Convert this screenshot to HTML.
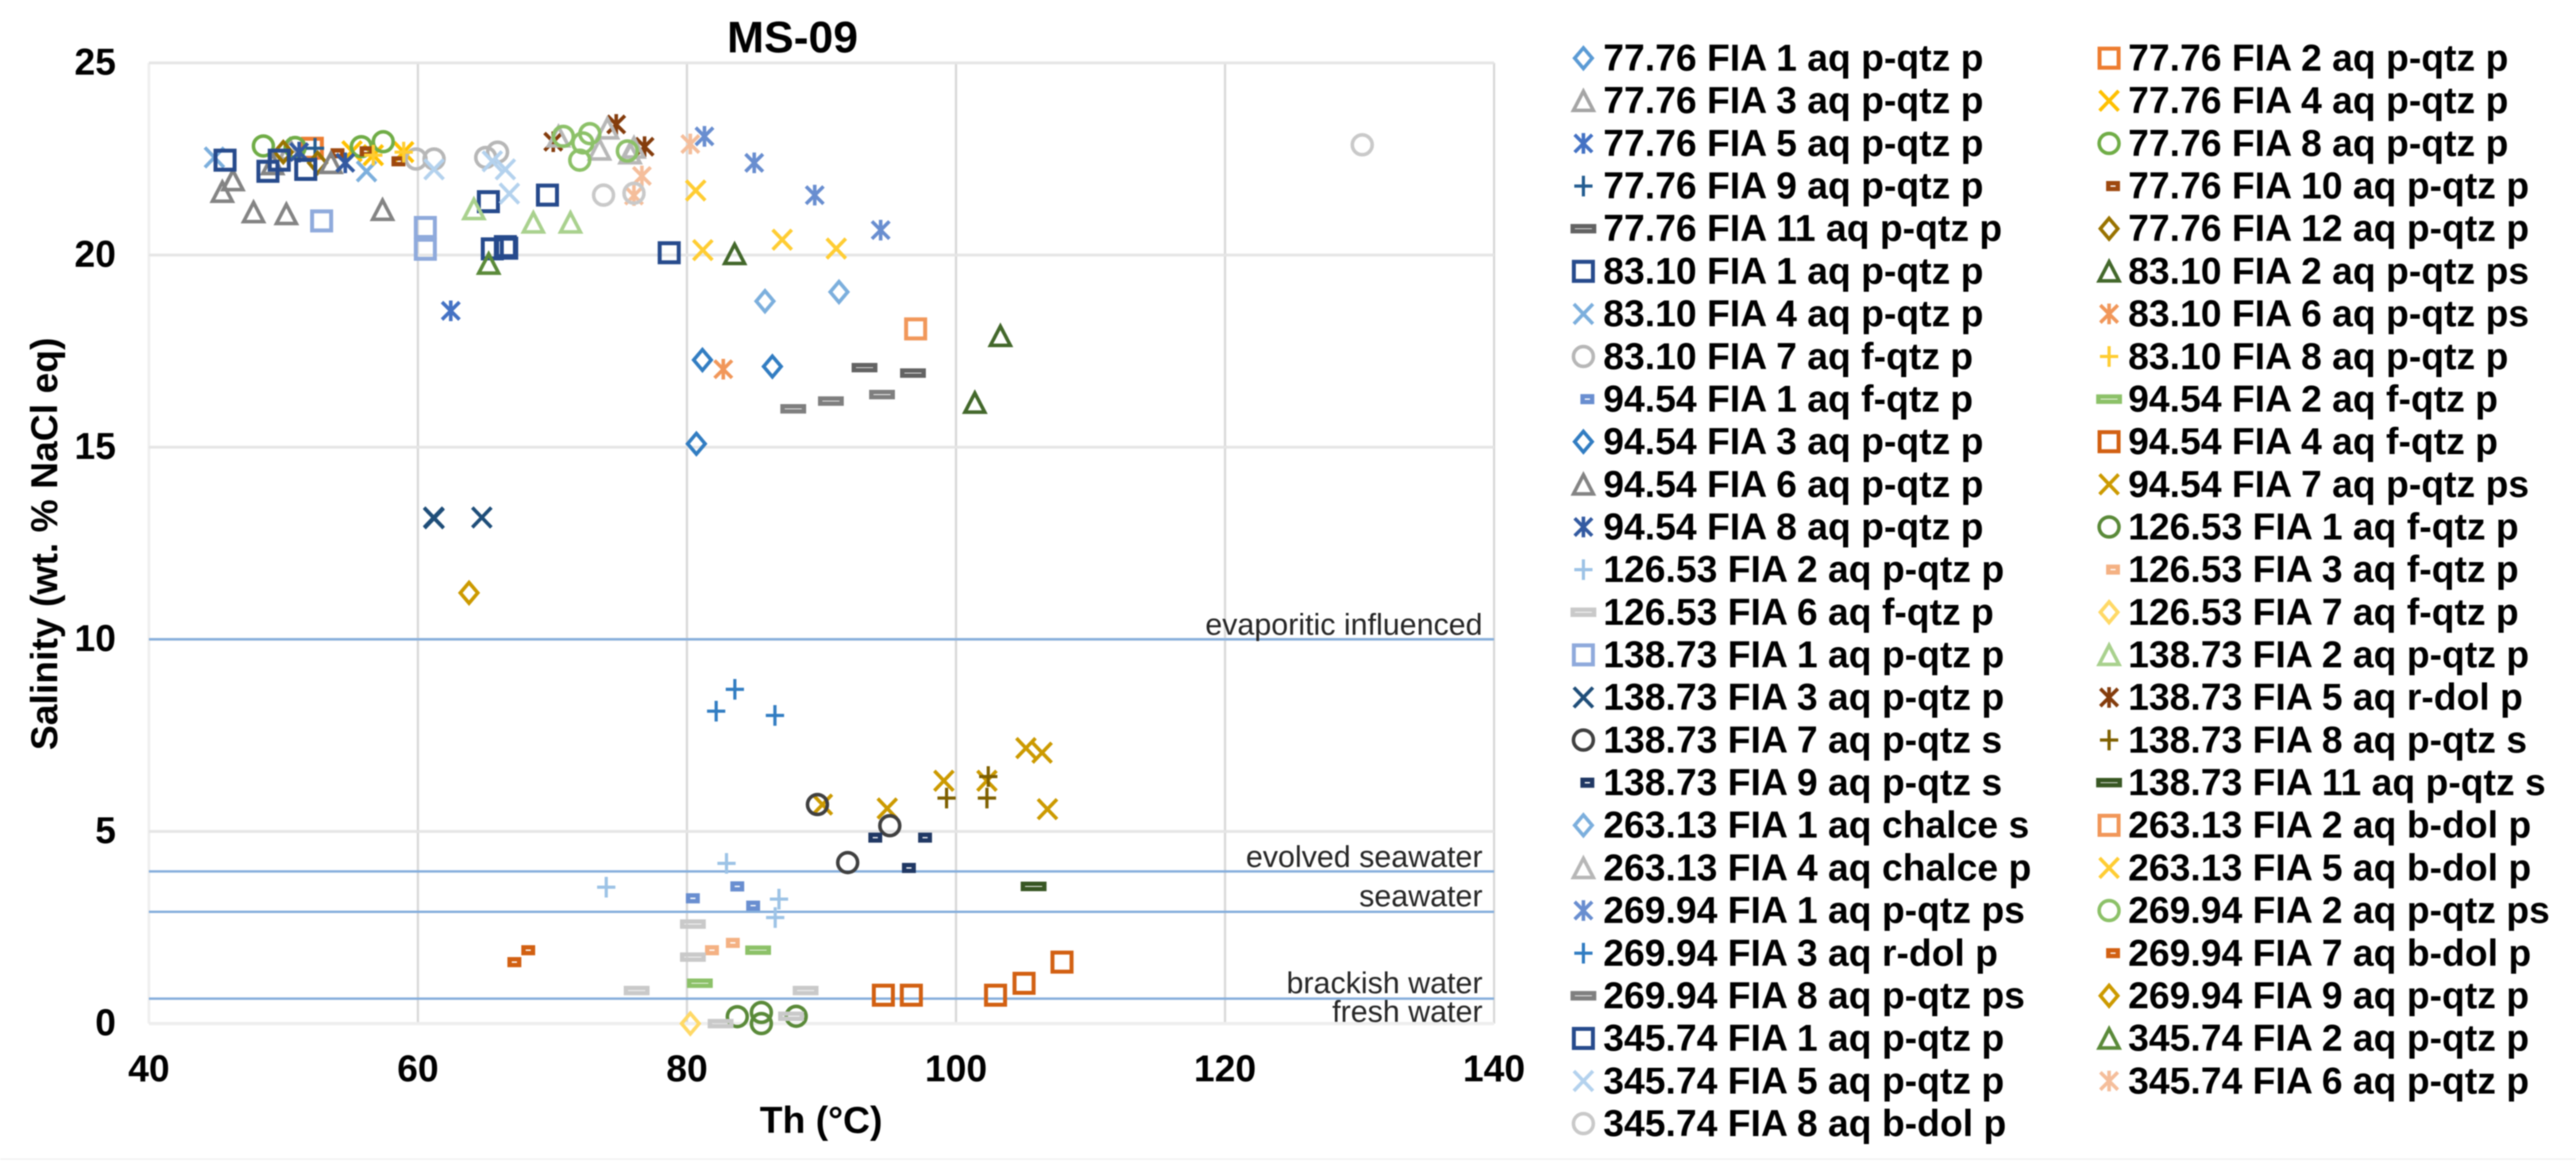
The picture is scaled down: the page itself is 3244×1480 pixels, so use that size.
<!DOCTYPE html>
<html lang="en">
<head>
<meta charset="utf-8">
<title>MS-09 Salinity vs Th</title>
<style>
  html,body{margin:0;padding:0;background:#fff;}
  body{width:3244px;height:1480px;overflow:hidden;}
  #chart{display:block;filter:blur(0.8px);font-family:"Liberation Sans",Arial,sans-serif;}
  .bold{font-weight:bold;fill:#000;font-size:47px;}
  .ref{font-weight:normal;fill:#262626;font-size:38.3px;}
</style>
</head>
<body>
<svg id="chart" xmlns="http://www.w3.org/2000/svg" width="3244" height="1480" viewBox="0 0 3244 1480">
  <rect x="0" y="0" width="3244" height="1480" fill="#ffffff"/>
  <line x1="0" y1="1460" x2="3244" y2="1460" stroke="#f3f3f3" stroke-width="2"/>
  <g id="grid"></g>
  <g id="refs"></g>
  <g id="xticks"></g>
  <g id="yticks"></g>
  <g id="marks"></g>
  <text x="998" y="66" text-anchor="middle" style="font-weight:bold;font-size:56px;fill:#000">MS-09</text>
  <text x="1034" y="1427" text-anchor="middle" class="bold">Th (°C)</text>
  <text transform="translate(72,685) rotate(-90)" text-anchor="middle" class="bold">Salinity (wt. % NaCl eq)</text>
  <g id="legend"></g>
</svg>
<script>
const xTicks = [40, 60, 80, 100, 120, 140];
const yTicks = [0, 5, 10, 15, 20, 25];
const refValues = [10, 3.96, 2.91, 0.65];
const refLabels = ["evaporitic influenced", "evolved seawater", "seawater", "brackish water", "fresh water"];

const seriesNames = [
  "77.76 FIA 1 aq p-qtz p", "77.76 FIA 2 aq p-qtz p", "77.76 FIA 3 aq p-qtz p", "77.76 FIA 4 aq p-qtz p",
  "77.76 FIA 5 aq p-qtz p", "77.76 FIA 8 aq p-qtz p", "77.76 FIA 9 aq p-qtz p", "77.76 FIA 10 aq p-qtz p",
  "77.76 FIA 11 aq p-qtz p", "77.76 FIA 12 aq p-qtz p", "83.10 FIA 1 aq p-qtz p", "83.10 FIA 2 aq p-qtz ps",
  "83.10 FIA 4 aq p-qtz p", "83.10 FIA 6 aq p-qtz ps", "83.10 FIA 7 aq f-qtz p", "83.10 FIA 8 aq p-qtz p",
  "94.54 FIA 1 aq f-qtz p", "94.54 FIA 2 aq f-qtz p", "94.54 FIA 3 aq p-qtz p", "94.54 FIA 4 aq f-qtz p",
  "94.54 FIA 6 aq p-qtz p", "94.54 FIA 7 aq p-qtz ps", "94.54 FIA 8 aq p-qtz p", "126.53 FIA 1 aq f-qtz p",
  "126.53 FIA 2 aq p-qtz p", "126.53 FIA 3 aq f-qtz p", "126.53 FIA 6 aq f-qtz p", "126.53 FIA 7 aq f-qtz p",
  "138.73 FIA 1 aq p-qtz p", "138.73 FIA 2 aq p-qtz p", "138.73 FIA 3 aq p-qtz p", "138.73 FIA 5 aq r-dol p",
  "138.73 FIA 7 aq p-qtz s", "138.73 FIA 8 aq p-qtz s", "138.73 FIA 9 aq p-qtz s", "138.73 FIA 11 aq p-qtz s",
  "263.13 FIA 1 aq chalce s", "263.13 FIA 2 aq b-dol p", "263.13 FIA 4 aq chalce p", "263.13 FIA 5 aq b-dol p",
  "269.94 FIA 1 aq p-qtz ps", "269.94 FIA 2 aq p-qtz ps", "269.94 FIA 3 aq r-dol p", "269.94 FIA 7 aq b-dol p",
  "269.94 FIA 8 aq p-qtz ps", "269.94 FIA 9 aq p-qtz p", "345.74 FIA 1 aq p-qtz p", "345.74 FIA 2 aq p-qtz p",
  "345.74 FIA 5 aq p-qtz p", "345.74 FIA 6 aq p-qtz p", "345.74 FIA 8 aq b-dol p"
];

const thValues = [
  [],
  [52.15],
  [50.48],
  [55.1, 56.68, 58.94],
  [62.44],
  [48.51, 50.87, 55.79, 57.42],
  [52.35],
  [54.02, 56.18, 58.55],
  [93.2, 96.8],
  [49.99, 52.54],
  [65.24, 69.63, 78.68],
  [83.54, 103.3, 101.4],
  [44.87, 56.18],
  [82.7],
  [59.86, 61.2, 65.04, 65.92],
  [56.68, 58.94],
  [83.74, 80.44, 84.92],
  [85.29, 80.96],
  [81.15, 86.35, 80.7],
  [94.6, 96.68, 102.94, 105.06, 107.88],
  [46.25, 45.46, 47.78, 50.22, 57.37, 49.2, 53.53],
  [90.07, 94.89, 99.1, 102.3, 105.2, 106.4, 106.8],
  [51.17, 54.6],
  [83.74, 85.53, 85.53, 88.12],
  [82.94, 74.0, 86.84, 86.56],
  [81.86, 83.41],
  [80.44, 80.44, 76.26, 88.82, 82.5, 87.74],
  [80.25],
  [52.84, 60.55, 60.55],
  [64.16, 68.58, 71.34],
  [61.17, 61.2, 64.75],
  [70.06, 74.74, 76.85],
  [89.7, 95.08, 91.95],
  [102.4, 99.3, 102.3],
  [94.0, 97.7, 96.5],
  [105.77],
  [85.8, 91.3],
  [97.0],
  [70.45, 74.09, 73.5, 76.06, 75.77],
  [80.65, 81.18, 87.08, 91.1],
  [81.3, 85.0, 89.5, 94.4],
  [70.81, 72.78, 72.26, 72.03, 75.57],
  [82.17, 83.56, 86.54],
  [68.2, 67.17],
  [87.9, 90.7, 94.5],
  [63.8],
  [45.66, 49.69, 48.85, 51.66, 65.53, 66.6, 66.5],
  [65.26],
  [61.2, 65.53, 66.5, 66.8],
  [80.25, 76.65, 76.06],
  [73.8, 76.06, 130.2]
];

const salinityValues = [
  [],
  [22.78],
  [22.75],
  [22.7, 22.6, 22.68],
  [18.55],
  [22.84, 22.8, 22.82, 22.95],
  [22.78],
  [22.65, 22.7, 22.44],
  [17.07, 16.93],
  [22.68, 22.4],
  [21.39, 21.56, 20.06],
  [20.03, 17.9, 16.16],
  [22.54, 22.18],
  [17.03],
  [22.5, 22.5, 22.54, 22.68],
  [22.6, 22.68],
  [3.57, 3.26, 3.07],
  [1.91, 1.05],
  [17.27, 17.1, 15.09],
  [0.74, 0.74, 0.74, 1.05, 1.6],
  [21.95, 21.65, 21.12, 21.07, 21.18, 22.37, 22.4],
  [5.7, 5.6, 6.32, 6.32, 7.17, 7.05, 5.58],
  [22.68, 22.4],
  [0.18, 0.29, 0, 0.19],
  [4.17, 3.55, 3.24, 2.76],
  [1.91, 2.1],
  [2.59, 1.73, 0.86, 0.86, 0, 0.19],
  [0],
  [20.89, 20.72, 20.15],
  [21.2, 20.85, 20.85],
  [13.17, 13.15, 13.17],
  [22.95, 23.4, 22.82],
  [5.7, 5.15, 4.19],
  [6.43, 5.87, 5.87],
  [4.84, 4.84, 4.05],
  [3.57],
  [18.8, 19.04],
  [18.08],
  [23.09, 23.3, 22.75, 22.8, 22.65],
  [21.68, 20.13, 20.4, 20.17],
  [23.09, 22.4, 21.56, 20.65],
  [23.09, 23.16, 22.92, 22.47, 22.71],
  [8.13, 8.7, 8.02],
  [1.91, 1.6],
  [16.0, 16.2, 16.37],
  [11.21],
  [22.47, 22.47, 22.18, 22.23, 20.16, 20.18, 20.22],
  [19.78],
  [22.23, 22.44, 22.23, 21.6],
  [22.89, 22.06, 21.55],
  [21.56, 21.61, 22.87]
];

const markerCycle = ["diamond", "square", "triangle", "x", "star", "circle", "plus", "dot", "dash"];
const markerOrder = [0,1,2,3,4,5,6,7,8,0,1,2,3,4,5,6,7,8,0,1,2,3,4,5,6,7,8,0,1,2,3,4,5,6,7,8,0,1,2,3,4,5,6,7,8,0,1,2,3,4,5];
const markerColors = [
  "#5B9BD5","#ED7D31","#A5A5A5","#FFC000","#4472C4","#70AD47","#255E91","#9E480E","#636363",
  "#997300","#264A8C","#43682B","#7CAFDD","#F1975A","#B7B7B7","#FFCD33","#698ED0","#8CC168",
  "#327DC2","#D26012","#848484","#CC9A00","#335AA1","#5A8A39","#9DC3E6","#F4B183","#C9C9C9",
  "#FFD966","#8FAADC","#A9D18E","#1F4E79","#843C0C","#404040","#7F6000","#203864","#385723",
  "#7CAFDD","#F1975A","#B7B7B7","#FFCD33","#698ED0","#8CC168","#327DC2","#D26012","#7F7F7F",
  "#CC9A00","#264A8C","#5A8A39","#B4D2EE","#F5BE9B","#C9C9C9"
];

const NS = "http://www.w3.org/2000/svg";
const plotLeft = 187.5, plotRight = 1881.5, plotTop = 79.3, plotBottom = 1289.3;
const xScale = v => plotLeft + (v - xTicks[0]) * (plotRight - plotLeft) / (xTicks[xTicks.length - 1] - xTicks[0]);
const yScale = v => plotBottom - v * (plotBottom - plotTop) / yTicks[yTicks.length - 1];

function mk(parent, tag, attrs, text) {
  const el = document.createElementNS(NS, tag);
  for (const k in attrs) el.setAttribute(k, attrs[k]);
  if (text !== undefined) el.textContent = text;
  parent.appendChild(el);
  return el;
}

const markerGeom = {
  diamond: {d: "M0,-13L11,0L0,13L-11,0Z", w: 4.5},
  square: {d: "M-12,-12H12V12H-12Z", w: 5},
  triangle: {d: "M0,-12L12.5,12H-12.5Z", w: 4.5},
  x: {d: "M-12,-12.5L12,12.5M12,-12.5L-12,12.5", w: 4.5},
  star: {d: "M-11,-11L11,11M11,-11L-11,11M0,-13V13", w: 4.5},
  circle: {d: "M-12.5,0A12.5,12.5 0 1,1 12.5,0A12.5,12.5 0 1,1 -12.5,0Z", w: 4.5},
  plus: {d: "M-11.5,0H11.5M0,-13V13", w: 4},
  dot: {d: "M-6,-3.6H6V3.6H-6Z", w: 5.5},
  dash: {d: "M-13.5,-3.2H13.5V3.2H-13.5Z", w: 5.5}
};

function drawMarker(parent, kind, color, cx, cy) {
  const g = markerGeom[kind];
  return mk(parent, "path", {
    d: g.d,
    transform: "translate(" + cx.toFixed(2) + "," + cy.toFixed(2) + ")",
    fill: "none",
    stroke: color,
    "stroke-width": g.w,
    "stroke-miterlimit": 4
  });
}

const gridG = document.getElementById("grid");
xTicks.forEach((v, i) => {
  const edge = i === 0;
  const line = mk(gridG, "line", {x1: xScale(v), x2: xScale(v), y1: plotTop, y2: plotBottom, stroke: edge ? "#efefef" : "#dadada", "stroke-width": edge ? 3.5 : 3});
  
  
});
yTicks.forEach((v, i) => {
  const edge = i === 0;
  const line = mk(gridG, "line", {x1: plotLeft, x2: plotRight, y1: yScale(v), y2: yScale(v), stroke: edge ? "#eeeeee" : "#e5e5e5", "stroke-width": edge ? 4 : 3.5});
  
  
});

const refG = document.getElementById("refs");
refValues.forEach(v => {
  const line = mk(refG, "line", {x1: plotLeft, x2: plotRight, y1: yScale(v), y2: yScale(v), stroke: "#85AEDC", "stroke-width": 3});
  
  
});
[-5.7, -5.6, -6.8, -6.9, -3].forEach((off, i) => {
  const base = i < 4 ? yScale(refValues[i]) + off : yScale(refValues[3]) + 29;
  const t = mk(refG, "text", {x: 1867, y: base, "text-anchor": "end", class: "ref"}, refLabels[i]);
  
  
});

const xtG = document.getElementById("xticks");
xTicks.forEach(v => {
  const t = mk(xtG, "text", {x: xScale(v), y: 1362, "text-anchor": "middle", class: "bold"}, String(v));
  
  
});
const ytG = document.getElementById("yticks");
yTicks.forEach(v => {
  const t = mk(ytG, "text", {x: 146, y: yScale(v) + 14.5, "text-anchor": "end", class: "bold"}, String(v));
  
  
});

const marksG = document.getElementById("marks");
seriesNames.forEach((name, s) => {
  const group = mk(marksG, "g", {});
  
  
  const kind = markerCycle[markerOrder[s]];
  thValues[s].forEach((th, i) => {
    const p = drawMarker(group, kind, markerColors[s], xScale(th), yScale(salinityValues[s][i]));
    
    
  });
});

const legendG = document.getElementById("legend");
const legendMarkerX = [1994, 2656];
const legendTextX = [2019, 2680];
seriesNames.forEach((name, s) => {
  const col = s % 2, row = Math.floor(s / 2);
  const base = 89 + 53.68 * row;
  const entry = mk(legendG, "g", {});
  
  
  const kind = markerCycle[markerOrder[s]];
  const mx = legendMarkerX[col] + (kind === "dot" ? 5 : 0);
  const glyph = drawMarker(entry, kind, markerColors[s], mx, base - 15.7);
  
  
  const label = mk(entry, "text", {x: legendTextX[col], y: base, class: "bold"}, name);
  
  
});
</script>
</body>
</html>
